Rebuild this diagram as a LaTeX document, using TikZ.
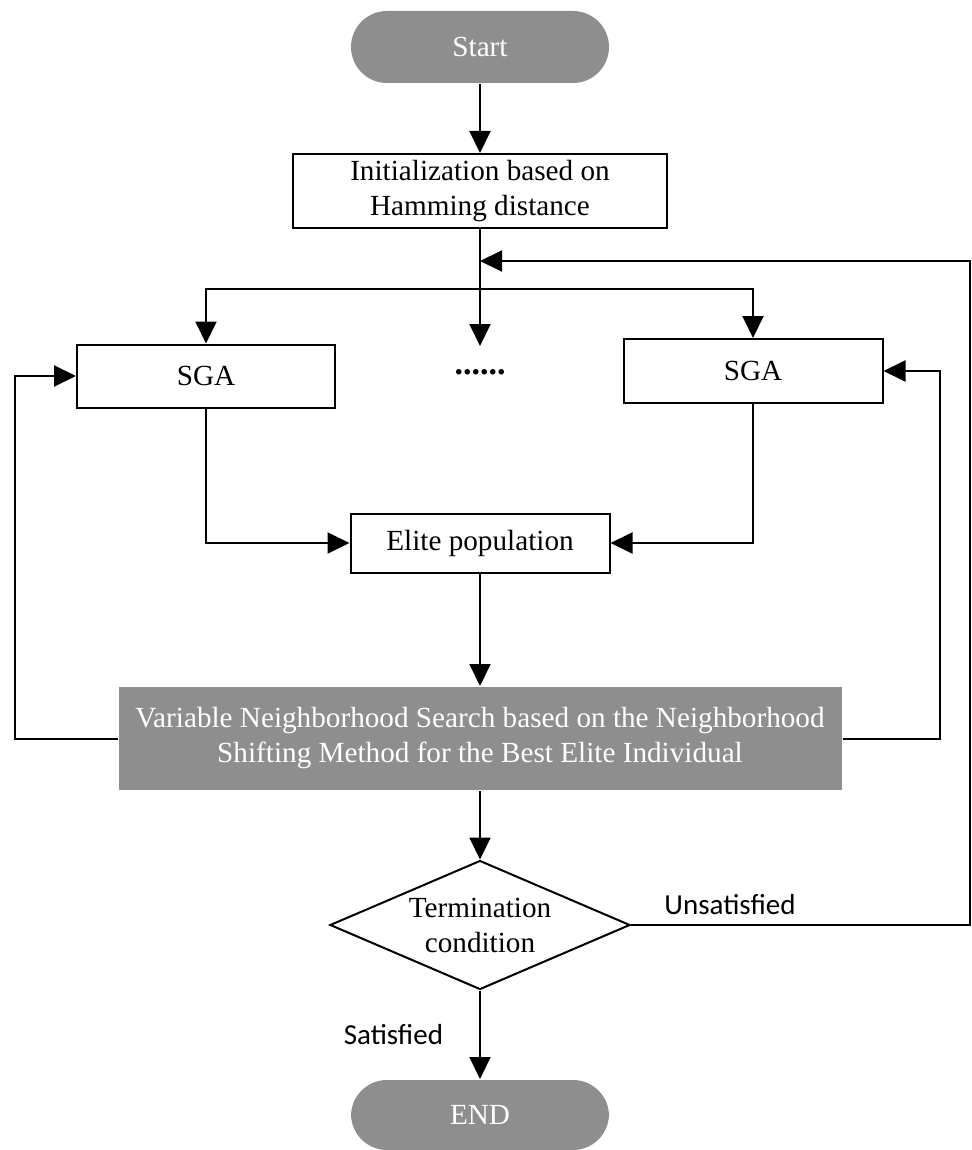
\documentclass[tikz,border=0pt]{standalone}
\usepackage{fontspec}
\setmainfont{Liberation Serif}
\newfontfamily\labelfont{Carlito}
\usetikzlibrary{arrows.meta,shapes.geometric}
\definecolor{boxgray}{RGB}{142,142,142}
\begin{document}
\begin{tikzpicture}[x=0.5pt,y=-0.5pt,font=\fontsize{14.6}{17.5}\selectfont,
		line width=1pt,>={Triangle[length=11pt,width=10.5pt]},
		proc/.style={draw,align=center,inner sep=0pt},
		term/.style={fill=boxgray,text=white,rounded corners=18pt,minimum width=129pt,minimum height=36pt},
		lbl/.style={font=\labelfont\fontsize{14.5}{17}\selectfont,inner sep=0pt}]
	\useasboundingbox (0,0) rectangle (972,1150);
	\node[term] (start) at (480,47) {Start};
	\node[proc,minimum width=187pt,minimum height=37pt] (init) at (480,191) {Initialization based on\\Hamming distance};
	\node[proc,minimum width=129pt,minimum height=31.5pt] (sgaL) at (206,376) {SGA};
	\node[proc,minimum width=129.5pt,minimum height=32pt] (sgaR) at (753,371) {SGA};
	\node[minimum height=25pt,inner sep=0pt,font=\fontsize{17}{17}\bfseries] (dots) at (480,372) {......};
	\node[proc,minimum width=129.5pt,minimum height=29.5pt] (elite) at (480,543) {Elite population};
	\node[proc,draw=none,fill=boxgray,text=white,minimum width=361.5pt,minimum height=51.5pt] (vns) at (480,738.5) {Variable Neighborhood Search based on the Neighborhood\\Shifting Method for the Best Elite Individual};
	\node[proc,diamond,aspect=2.33,minimum width=150pt,minimum height=64.5pt] (cond) at (480,925) {Termination\\condition};
	\node[term,minimum height=35pt] (end) at (480,1115) {END};
	\node[lbl] (unsat) at (730,905) {Unsatisfied};
	\coordinate (split) at (480,289);
	\coordinate (merge) at (480,261);
	\coordinate (back) at (970,261);
	\draw[->] (start) -- (init);
	\draw[->] (init) -- (dots);
	\draw[->] (split) -| (sgaL);
	\draw[->] (split) -| (sgaR);
	\draw[->] (sgaL) |- (elite);
	\draw[->] (sgaR) |- (elite);
	\draw[->] (elite) -- (vns);
	\draw[->] (vns) -- (cond);
	\draw[->] (cond) -- (end) node[lbl,midway,left=18pt] {Satisfied};
	\draw[->] (vns.west) -- ++(-103,0) |- (sgaL.west);
	\draw[->] (vns.east) -- ++(97,0) |- (sgaR.east);
	\draw[->] (cond.east) -| (back) -- (merge);
\end{tikzpicture}
\end{document}
